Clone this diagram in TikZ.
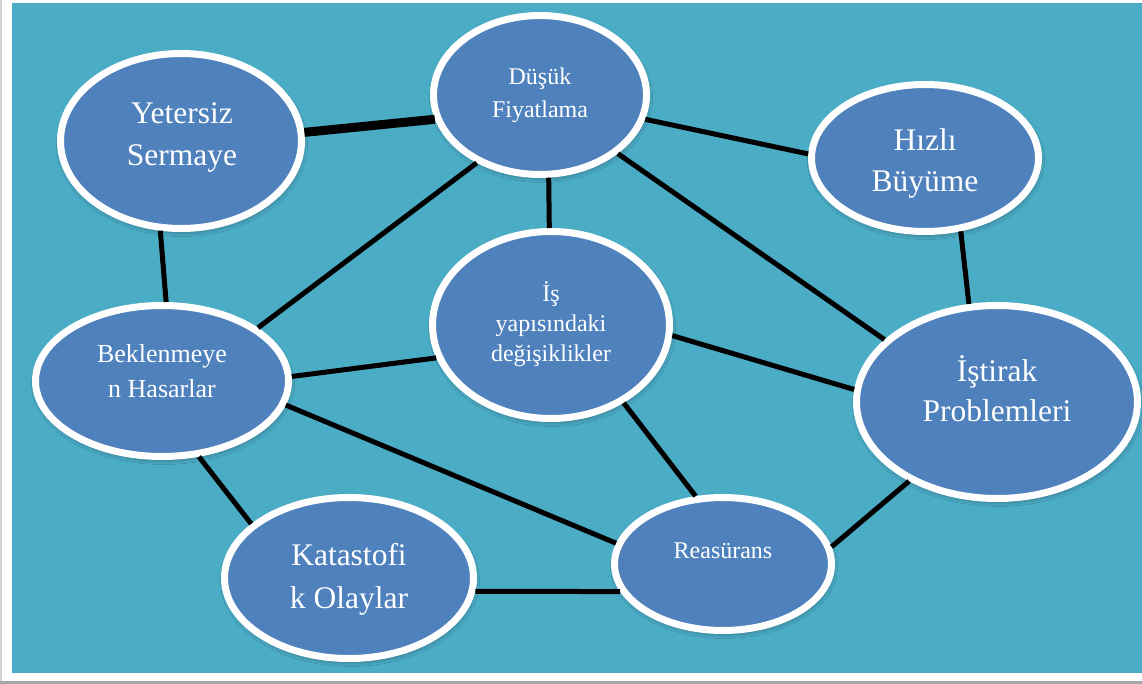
\documentclass[tikz,border=0pt]{standalone}
\usepackage{fontspec}
\setmainfont{Liberation Serif}
\usetikzlibrary{shapes.geometric,shadows.blur}
\definecolor{frameteal}{HTML}{4BACC6}
\definecolor{bubbleblue}{HTML}{4F81BD}
\definecolor{edgegray}{HTML}{A6A6A6}

\begin{document}
\begin{tikzpicture}[x=1pt,y=-1pt,
  bubble/.style={ellipse, fill=bubbleblue, draw=white, line width=7pt, inner sep=0pt,
    blur shadow={shadow xshift=1pt, shadow yshift=-3pt, shadow blur radius=5pt, shadow opacity=45}},
  link/.style={draw=black, line width=5pt},
  heavylink/.style={draw=black, line width=9pt},
  txt/.style={text=white, align=center, inner sep=0pt},
  bigtxt/.style={txt, font=\fontsize{31.5}{42}\selectfont},
  midtxt/.style={txt, font=\fontsize{26}{35}\selectfont},
  smalltxt/.style={txt, font=\fontsize{24}{33}\selectfont}]

\useasboundingbox (0,0) rectangle (1142,684);
% page, frame shadow and teal panel
\fill[white] (0,0) rectangle (1142,684);
\fill[edgegray] (0,681) rectangle (1142,684);
\fill[edgegray!50] (0,0) rectangle (1.5,681);
\fill[frameteal] (12,3) rectangle (1142,673);

% ellipses
\node[bubble, minimum width=241pt, minimum height=175pt] (ys) at (181,141) {};
\node[bubble, minimum width=213pt, minimum height=159pt] (df) at (540,95) {};
\node[bubble, minimum width=227pt, minimum height=147pt] (hb) at (925,158) {};
\node[bubble, minimum width=237pt, minimum height=187pt] (is) at (551,325) {};
\node[bubble, minimum width=253pt, minimum height=151pt] (bh) at (162,381) {};
\node[bubble, minimum width=281pt, minimum height=193pt] (ip) at (997,402) {};
\node[bubble, minimum width=249pt, minimum height=161pt] (ko) at (349,578) {};
\node[bubble, minimum width=217pt, minimum height=133pt] (re) at (723,564) {};

% labels
\node[bigtxt] (ys-t) at (182,137) {Yetersiz\\Sermaye};
\node[smalltxt] (df-t) at (540,95) {Düşük\\Fiyatlama};
\node[bigtxt, font=\fontsize{31.5}{41}\selectfont] (hb-t) at (925,163) {Hızlı\\Büyüme};
\node[smalltxt, font=\fontsize{24}{30}\selectfont] (is-t) at (551,324) {İş\\yapısındaki\\değişiklikler};
\node[midtxt] (bh-t) at (162,371) {Beklenmeye\\n Hasarlar};
\node[bigtxt, font=\fontsize{31.5}{40}\selectfont] (ip-t) at (997,389) {İştirak\\Problemleri};
\node[bigtxt, font=\fontsize{31.5}{43}\selectfont] (ko-t) at (349,579) {Katastofi\\k Olaylar};
\node[smalltxt] (re-t) at (723,551) {Reasürans};

% connectors
\draw[heavylink] (ys.4.7) -- (df.193.2);
\draw[link] (df.-13.7) -- (hb.178);
\draw[link] (df.-84.4) -- (is.91.8);
\draw[link] (df.227.1) -- (bh.29.7);
\draw[link] (df.-37.9) -- (ip.151.6);
\draw[link] (ys.257.7) -- (bh.87.2);
\draw[link] (hb.-64.4) -- (ip.106.7);
\draw[link] (bh.2.7) -- (is.196.5);
\draw[link] (is.-5.6) -- (ip.175.1);
\draw[link] (bh.-11.5) -- (re.169);
\draw[link] (is.-47.2) -- (re.112.1);
\draw[link] (bh.-64.3) -- (ko.151.4);
\draw[link] (ko.-6.3) -- (re.195.6);
\draw[link] (re.9.9) -- (ip.222.8);
\end{tikzpicture}
\end{document}
